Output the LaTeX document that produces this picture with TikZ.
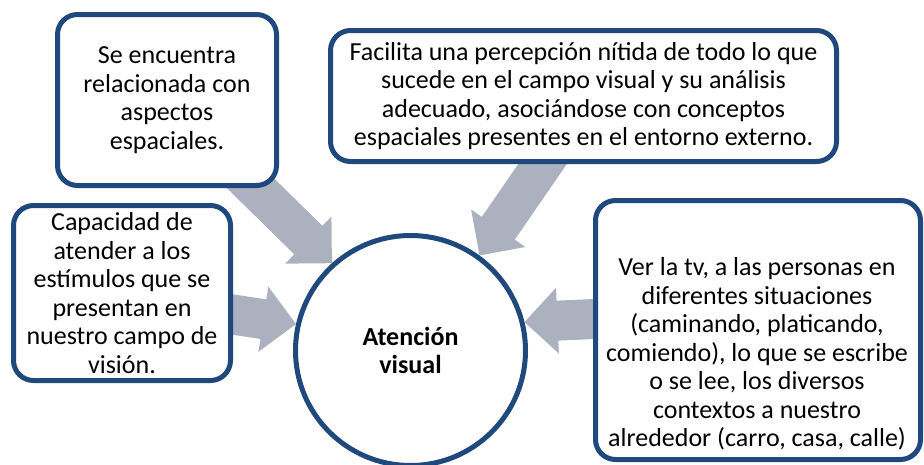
\documentclass[tikz,border=0pt]{standalone}
\usepackage{fontspec}
\setmainfont{Carlito}
\usetikzlibrary{calc,backgrounds}
\definecolor{boxblue}{RGB}{31,73,125}
\definecolor{arrowgray}{RGB}{172,177,192}
\newcommand\blockarrow[2]{%
  \path (#2) coordinate (ba-tip) (#1) coordinate (ba-t);
  \path ($(ba-tip)!33pt!(ba-t)$) coordinate (ba-h);
  \fill[arrowgray] ($(ba-t)!20pt!90:(ba-tip)$) -- ($(ba-h)!20pt!90:(ba-tip)$)
    -- ($(ba-h)!33pt!90:(ba-tip)$) -- (ba-tip) -- ($(ba-h)!33pt!-90:(ba-tip)$)
    -- ($(ba-h)!20pt!-90:(ba-tip)$) -- ($(ba-t)!20pt!-90:(ba-tip)$) -- cycle;}
\begin{document}
\begin{tikzpicture}[x=1pt,y=-1pt,
  txt/.style={align=center, font=\fontsize{26}{28.5}\selectfont, inner sep=0pt},
  box/.style={draw=boxblue, line width=5pt, rounded corners=20pt, fill=white, inner sep=0pt, txt},
  hub/.style={draw=boxblue, line width=5pt, circle, fill=white, inner sep=0pt, minimum size=230pt, txt, font=\fontsize{26}{28.5}\selectfont\bfseries}]
\useasboundingbox (0,0) rectangle (924,464);
\node[box, minimum width=219pt, minimum height=171pt] (box1) at (167,100)
  {Se encuentra\\relacionada con\\aspectos\\espaciales.};
\node[box, minimum width=506pt, minimum height=131pt] (box2) at (583.5,96)
  {Facilita una percepción nítida de todo lo que\\sucede en el campo visual y su análisis\\adecuado, asociándose con conceptos\\espaciales presentes en el entorno externo.};
\node[box, minimum width=217pt, minimum height=175pt] (box3) at (122,293)
  {Capacidad de\\atender a los\\estímulos que se\\presentan en\\nuestro campo de\\visión.};
\node[box, minimum width=325pt, minimum height=259pt] (box4) at (758,330) {};
\node[txt] (box4text) at (757,354)
  {Ver la tv, a las personas en\\diferentes situaciones\\(caminando, platicando,\\comiendo), lo que se escribe\\o se lee, los diversos\\contextos a nuestro\\alrededor (carro, casa, calle)};
\node[hub] (circ) at (410.5,350.5) {Atención\\visual};
\coordinate (t1) at (240,173);
\coordinate (t2) at (566,130);
\coordinate (t3) at (196,309);
\coordinate (t4) at (640,317);
\begin{scope}[on background layer]
  \blockarrow{t1}{circ.132.6}
  \blockarrow{t2}{circ.54}
  \blockarrow{t3}{circ.167.5}
  \blockarrow{t4}{circ.14.2}
\end{scope}
\end{tikzpicture}
\end{document}
